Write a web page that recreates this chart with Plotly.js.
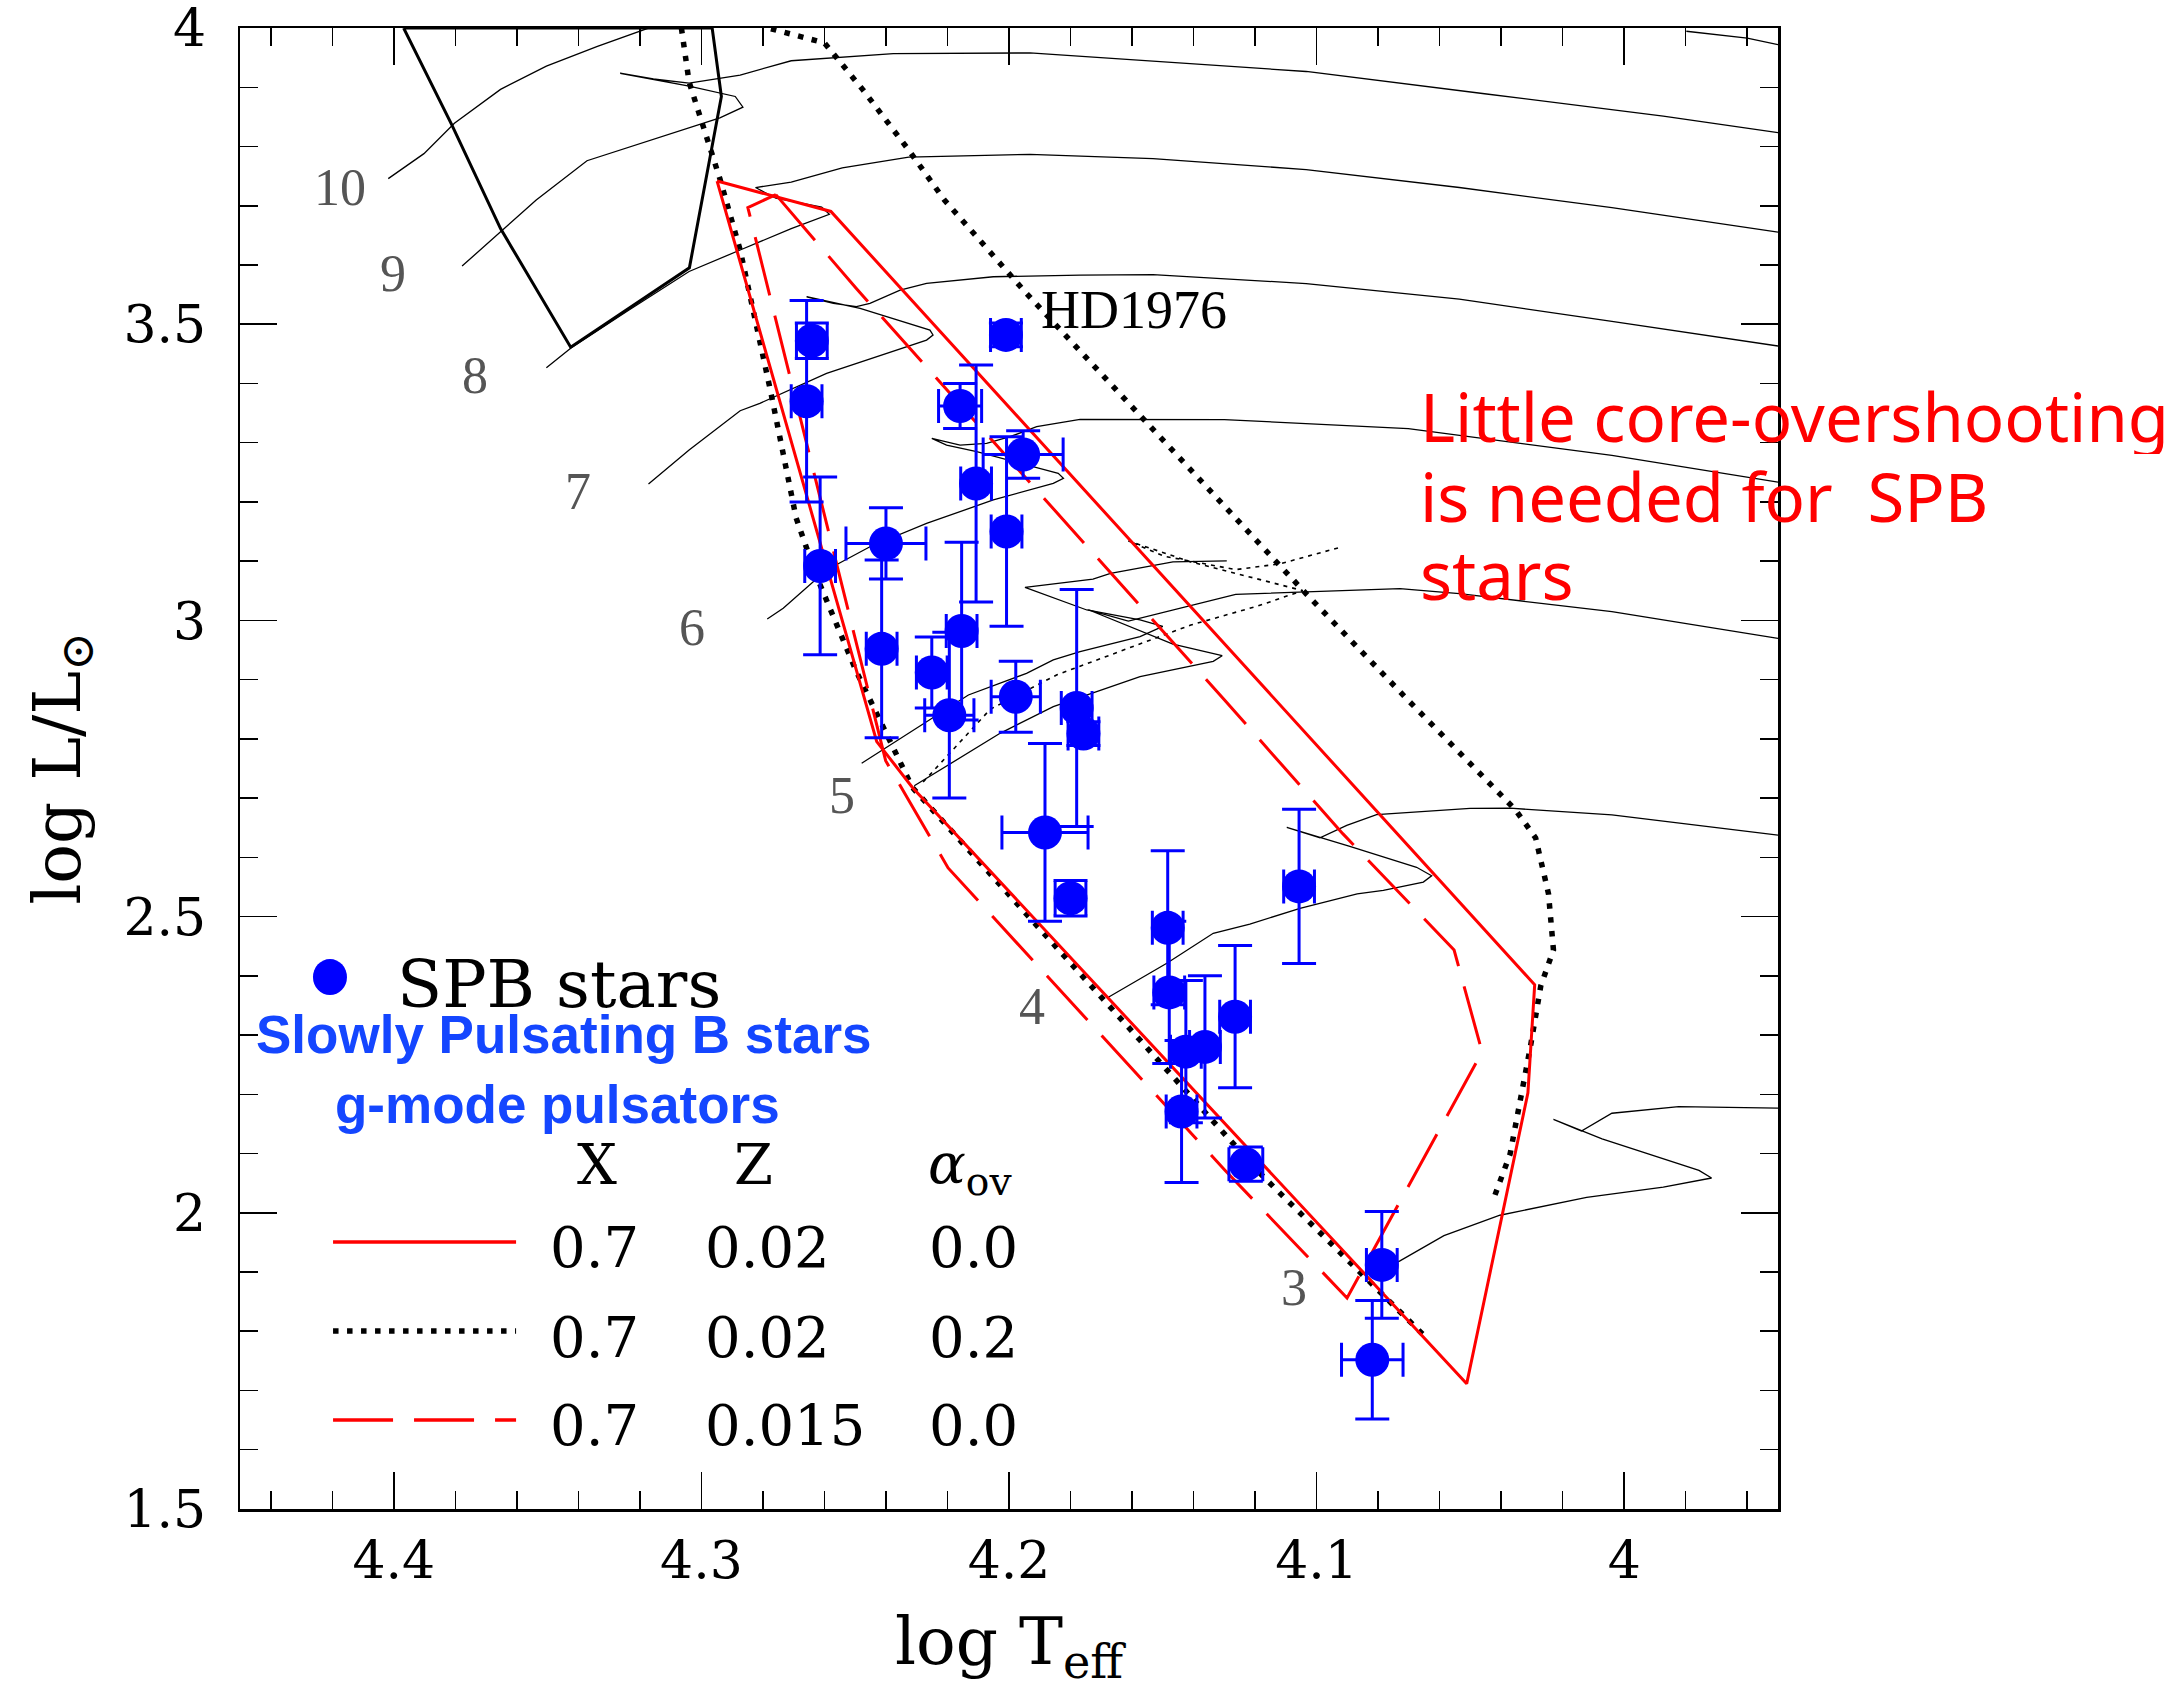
<!DOCTYPE html>
<html>
<head>
<meta charset="utf-8">
<script src="https://cdn.plot.ly/plotly-3.0.1.min.js"></script>
<style>
  html, body { margin: 0; padding: 0; background: #ffffff; }
  #chart { width: 2175px; height: 1689px; }
</style>
</head>
<body>
<div id="chart"></div>
<script>
// ---------------- SPB stars (log Teff, log L/Lsun, 1-sigma errors) ----------------
const spbTeff = [4.2641, 4.2658, 4.2614, 4.2400, 4.2414, 4.2251, 4.2194, 4.2154, 4.2159, 4.2107,
                 4.2010, 4.1954, 4.2008, 4.1978, 4.1780, 4.1758, 4.1883, 4.1800, 4.1484, 4.1479,
                 4.1425, 4.1363, 4.1439, 4.1265, 4.1230, 4.1057, 4.0788, 4.0819];
const spbLum  = [3.472, 3.370, 3.092, 3.130, 2.952, 2.912, 2.840, 2.982, 3.362, 3.231,
                 3.482, 3.280, 3.150, 2.871, 2.852, 2.809, 2.642, 2.531, 2.481, 2.372,
                 2.272, 2.280, 2.171, 2.331, 2.082, 2.551, 1.912, 1.752];
const spbErrTeff = [0.005, 0.005, 0.005, 0.013, 0.005, 0.005, 0.008, 0.005, 0.007, 0.005,
                    0.005, 0.013, 0.005, 0.008, 0.005, 0.005, 0.014, 0.005, 0.005, 0.005,
                    0.005, 0.005, 0.005, 0.005, 0.0055, 0.005, 0.005, 0.010];
const spbErrLum  = [0.03, 0.17, 0.15, 0.06, 0.15, 0.06, 0.14, 0.15, 0.038, 0.20,
                    0.02, 0.04, 0.16, 0.06, 0.20, 0.02, 0.15, 0.03, 0.13, 0.12,
                    0.12, 0.12, 0.12, 0.12, 0.029, 0.13, 0.09, 0.10];

// ---------------- Evolutionary tracks (null = break) ----------------
const track10Teff = [4.4018, 4.3902, 4.3803, 4.3653, 4.3504, 4.3338, 4.3172, null, 3.9798, 3.9600, 3.9500];
const track10Lum  = [3.7458, 3.7880, 3.8393, 3.8965, 3.9357, 3.9689, 4.0000, null, 3.9946, 3.9830, 3.9720];
const track9Teff = [4.3778, 4.3653, 4.3537, 4.3372, 4.3156, 4.2940, 4.2865, 4.2890, 4.3040, 4.3264,
                    4.3156, 4.3040, 4.2874, 4.2708, 4.2376, 4.1932, 4.1034, 4.0454, 3.9873, 3.9500];
const track9Lum  = [3.5982, 3.6555, 3.7097, 3.7760, 3.8121, 3.8484, 3.8665, 3.8845, 3.9020, 3.9237,
                    3.9140, 3.9070, 3.9207, 3.9448, 3.9568, 3.9580, 3.9267, 3.8891, 3.8513, 3.8234];
const track8Teff = [4.3504, 4.3425, 4.3239, 4.3040, 4.2874, 4.2708, 4.2584, 4.2609, 4.2758, 4.2824,
                    4.2708, 4.2542, 4.2326, 4.1932, 4.1532, 4.1034, 4.0536, 4.0040, 3.9500];
const track8Lum  = [3.4264, 3.4595, 3.5228, 3.5891, 3.6253, 3.6615, 3.6855, 3.6977, 3.7127, 3.7308,
                    3.7398, 3.7640, 3.7821, 3.7868, 3.7797, 3.7610, 3.7308, 3.6968, 3.6555];
const track7Teff = [4.3172, 4.3040, 4.2874, 4.2810, 4.2593, 4.2430, 4.2268, 4.2247, 4.2257, 4.2484,
                    4.2658, 4.2571, 4.2496, 4.2452, 4.2354, 4.2268, 4.2051, 4.1769, 4.1532, 4.1034,
                    4.0536, 4.0040, 3.9500];
const track7Lum  = [3.2304, 3.2877, 3.3540, 3.3665, 3.4171, 3.4452, 3.4733, 3.4818, 3.4902, 3.5268,
                    3.5464, 3.5353, 3.5296, 3.5353, 3.5577, 3.5690, 3.5802, 3.5830, 3.5839, 3.5687,
                    3.5424, 3.5047, 3.4632];
const track6Teff = [4.2786, 4.2734, 4.2593, 4.2452, 4.2268, 4.2051, 4.1856, 4.1823, 4.1840, 4.1921,
                    4.2105, 4.2203, 4.2251, 4.2159, 4.2073, 4.1997, 4.1910, 4.1769, 4.1300, 4.0702,
                    4.0040, 3.9500];
const track6Lum  = [3.0023, 3.0204, 3.0851, 3.1244, 3.1639, 3.2033, 3.2314, 3.2399, 3.2483, 3.2595,
                    3.2848, 3.2961, 3.3074, 3.2960, 3.2990, 3.3101, 3.3270, 3.3395, 3.3390, 3.3238,
                    3.2787, 3.2334];
const track5aTeff = [4.2479, 4.2311, 4.2132, 4.1943, 4.1856, 4.1769, 4.1574, 4.1500, 4.1574, 4.1747,
                     4.1948, 4.1727, 4.1670, 4.1467, 4.1292];
const track5aLum  = [2.7588, 2.8150, 2.8741, 2.9107, 2.9332, 2.9472, 2.9726, 2.9900, 3.0008, 3.0176,
                     3.0557, 3.0697, 3.0794, 3.0988, 3.1006];
const track5bTeff = [4.2308, 4.2029, 4.1856, 4.1574, 4.1336, 4.1307, 4.1467, 4.1742, 4.1612, 4.1467,
                     4.1263, 4.0729, 4.0536, 4.0040, 3.9500];
const track5bLum  = [2.7208, 2.8094, 2.8544, 2.9050, 2.9309, 2.9404, 2.9598, 3.0180, 2.9987, 3.0180,
                     3.0439, 3.0535, 3.0451, 3.0149, 2.9696];
const track4Teff = [4.1677, 4.1487, 4.1336, 4.1217, 4.1054, 4.0868, 4.0783, 4.0653, 4.0626, 4.0675,
                    4.0892, 4.1097, 4.0989, 4.0902, 4.0805, 4.0501, 4.0371, 4.0040, 3.9500];
const track4Lum  = [2.3638, 2.4212, 2.4718, 2.4872, 2.5140, 2.5383, 2.5441, 2.5582, 2.5689, 2.5832,
                    2.6186, 2.6506, 2.6328, 2.6541, 2.6720, 2.6827, 2.6830, 2.6718, 2.6374];
const track3Teff = [4.0790, 4.0729, 4.0586, 4.0404, 4.0122, 3.9873, 3.9716, 3.9757, 4.0072, 4.0230,
                    4.0139, 4.0040, 3.9823, 3.9500];
const track3Lum  = [1.9050, 1.9188, 1.9613, 1.9958, 2.0260, 2.0432, 2.0587, 2.0716, 2.1249, 2.1576,
                    2.1379, 2.1680, 2.1792, 2.1766];
// overshooting track (thin dotted)
const ovTrackTeff = [4.2279, 4.2061, 4.1844, 4.1612, 4.1409, 4.1190, 4.1045, 4.1190, 4.1409, 4.1612,
                     4.1496, 4.1263, 4.1118, 4.0915];
const ovTrackLum  = [2.7272, 2.8500, 2.9082, 2.9534, 2.9922, 3.0245, 3.0503, 3.0697, 3.0988, 3.1342,
                     3.1084, 3.0858, 3.0956, 3.1246];

// ---------------- Instability domains ----------------
// beta Cep type domain (thick black)
const betaCepTeff = [4.3968, 4.3811, 4.3653, 4.3425, 4.3039, 4.2935, 4.2965, 4.3968];
const betaCepLum  = [4.0000, 3.8363, 3.6615, 3.4613, 3.5952, 3.8845, 4.0000, 4.0000];
// SPB domain X=0.7 Z=0.02 alpha_ov=0.0 (solid red)
const spbZ020Teff = [4.2949, 4.2579, 4.0291, 4.0313, 4.0512, 4.2314, 4.2430, 4.2949];
const spbZ020Lum  = [3.7417, 3.6904, 2.3850, 2.2024, 1.7115, 2.7180, 2.7955, 3.7417];
// SPB domain X=0.7 Z=0.015 alpha_ov=0.0 (long dashed red)
const spbZ015Teff = [4.2758, 4.2497, 4.1300, 4.0915, 4.0553, 4.0462, 4.0901, 4.1298, 4.2198, 4.2401, 4.2849, 4.2758];
const spbZ015Lum  = [3.7188, 3.5606, 2.8660, 2.6400, 2.4436, 2.2714, 1.8562, 2.0719, 2.5822, 2.7632, 3.6970, 3.7188];
// SPB domain X=0.7 Z=0.02 alpha_ov=0.2 (dotted black)
const spbOvTeff = [4.3065, 4.3040, 4.2940, 4.2874, 4.2774, 4.2692, 4.2627, 4.2497, 4.2314, 4.1182, 4.0652, null,
                   4.0420, 4.0371, 4.0305, 4.0271, 4.0230, 4.0246, 4.0288, 4.0354, 4.0703, 4.1034, 4.1945,
                   4.2210, 4.2326, 4.2476, 4.2600, 4.2783];
const spbOvLum  = [4.0000, 3.9088, 3.7458, 3.6253, 3.3842, 3.1730, 3.0760, 2.9146, 2.7179, 2.0655, 1.7934, null,
                   2.0302, 2.0991, 2.2800, 2.3834, 2.4436, 2.5383, 2.6330, 2.6805, 2.8656, 3.0450, 3.5530,
                   3.7097, 3.7940, 3.8965, 3.9750, 4.0000];

// ---------------- Labels ----------------
const massLabels    = ['10', '9', '8', '7', '6', '5', '4', '3'];
const massLabelTeff = [4.4176, 4.4003, 4.3736, 4.3401, 4.3029, 4.2543, 4.1925, 4.1072];
const massLabelLum  = [3.7308, 3.5864, 3.4142, 3.2184, 2.9872, 2.7036, 2.3474, 1.8730];
const starName = 'HD1976';
const starNameTeff = 4.1593, starNameLum = 3.524;

const xTickVals = [4.4, 4.3, 4.2, 4.1, 4.0];
const xTickText = ['4.4', '4.3', '4.2', '4.1', '4'];
const yTickVals = [1.5, 2, 2.5, 3, 3.5, 4];
const yTickText = ['1.5', '2', '2.5', '3', '3.5', '4'];

const legendX     = ['0.7', '0.7', '0.7'];
const legendZ     = ['0.02', '0.02', '0.015'];
const legendAlpha = ['0.0', '0.2', '0.0'];

const noteLines = ['Little core-overshooting', 'is needed for\u00a0\u00a0SPB', 'stars'];
const spbNames  = ['Slowly Pulsating B stars', 'g-mode pulsators'];

// ---------------- Build ----------------
const SERIF = 'Liberation Serif, DejaVu Serif, Times New Roman, serif';
const WIDE_SERIF = 'DejaVu Serif, serif';
const BLUE = '#0000ff';
const RED = '#ff0000';

function line(x, y, color, width, dash) {
  return {x: x, y: y, type: 'scatter', mode: 'lines', hoverinfo: 'skip', showlegend: false,
          line: {color: color, width: width, dash: dash || 'solid'}};
}

const traces = [
  line(track10Teff, track10Lum, '#000', 1.3),
  line(track9Teff, track9Lum, '#000', 1.3),
  line(track8Teff, track8Lum, '#000', 1.3),
  line(track7Teff, track7Lum, '#000', 1.3),
  line(track6Teff, track6Lum, '#000', 1.3),
  line(track5aTeff, track5aLum, '#000', 1.3),
  line(track5bTeff, track5bLum, '#000', 1.3),
  line(track4Teff, track4Lum, '#000', 1.3),
  line(track3Teff, track3Lum, '#000', 1.3),
  line(ovTrackTeff, ovTrackLum, '#000', 1.6, '4px,5px'),
  line(betaCepTeff, betaCepLum, '#000', 3),
  line(spbOvTeff, spbOvLum, '#000', 5.5, '5.5px,8.5px'),
  line(spbZ015Teff, spbZ015Lum, RED, 3, '60px,21px'),
  line(spbZ020Teff, spbZ020Lum, RED, 3),
  {
    x: spbTeff, y: spbLum, type: 'scatter', mode: 'markers', showlegend: false, hoverinfo: 'skip',
    marker: {size: 34, color: BLUE, line: {width: 0}},
    error_x: {type: 'data', array: spbErrTeff, visible: true, color: BLUE, thickness: 3, width: 17},
    error_y: {type: 'data', array: spbErrLum, visible: true, color: BLUE, thickness: 3, width: 17}
  }
];

const annotations = [];
massLabels.forEach((t, i) => annotations.push({
  x: massLabelTeff[i], y: massLabelLum[i], xref: 'x', yref: 'y', text: t, showarrow: false,
  xanchor: 'center', yanchor: 'middle', font: {family: SERIF, size: 52, color: '#555555'}
}));
annotations.push({
  x: starNameTeff, y: starNameLum, xref: 'x', yref: 'y', text: starName, showarrow: false,
  xanchor: 'center', yanchor: 'middle', font: {family: SERIF, size: 54, color: '#000000'}
});
// note, one box per line so the line spacing stays tight
const noteY = [0.7380, 0.6840, 0.6313];
noteLines.forEach((t, i) => annotations.push({
  x: 0.766, y: noteY[i], xref: 'paper', yref: 'paper', text: t, showarrow: false, height: 76,
  xanchor: 'left', yanchor: 'middle', font: {family: 'Noto Sans, Open Sans, sans-serif', size: 67, color: RED}
}));
annotations.push({
  x: 0.1008, y: 0.3545, xref: 'paper', yref: 'paper', text: 'SPB stars', showarrow: false, height: 52,
  xanchor: 'left', yanchor: 'middle', font: {family: WIDE_SERIF, size: 66, color: '#000'}
});
const spbNameX = [0.0091, 0.0605], spbNameY = [0.3205, 0.2735];
spbNames.forEach((t, i) => annotations.push({
  x: spbNameX[i], y: spbNameY[i], xref: 'paper', yref: 'paper', text: '<b>' + t + '</b>', showarrow: false,
  height: 60,
  xanchor: 'left', yanchor: 'middle', font: {family: 'Liberation Sans, Arial, sans-serif', size: 53, color: '#1446ff'}
}));
// key column headers
annotations.push({x: 0.2321, y: 0.2323, xref: 'paper', yref: 'paper', text: 'X', showarrow: false,
  xanchor: 'center', yanchor: 'middle', font: {family: WIDE_SERIF, size: 56, color: '#000'}});
annotations.push({x: 0.3342, y: 0.2323, xref: 'paper', yref: 'paper', text: 'Z', showarrow: false,
  xanchor: 'center', yanchor: 'middle', font: {family: WIDE_SERIF, size: 56, color: '#000'}});
annotations.push({x: 0.446, y: 0.2303, xref: 'paper', yref: 'paper', text: '<i>α</i><sub>ov</sub>', showarrow: false,
  xanchor: 'left', yanchor: 'middle', font: {family: WIDE_SERIF, size: 56, color: '#000'}});
const rowY = [0.1766, 0.1161, 0.0567];
const colLeft = [0.200, 0.3010, 0.4470];
[legendX, legendZ, legendAlpha].forEach((col, c) => col.forEach((t, r) => annotations.push({
  x: colLeft[c], y: rowY[r], xref: 'paper', yref: 'paper', text: t, showarrow: false,
  xanchor: 'left', yanchor: 'middle', font: {family: WIDE_SERIF, size: 56, color: '#000'}
})));

const keyLineY = [0.1803, 0.1202, 0.0601];
const keyStyles = [
  {color: RED, width: 3.5, dash: 'solid'},
  {color: '#000', width: 5.5, dash: '5.5px,8.5px'},
  {color: RED, width: 3.5, dash: '60px,21px'}
];
const shapes = keyStyles.map((s, i) => ({
  type: 'line', xref: 'paper', yref: 'paper', x0: 0.0605, x1: 0.1795, y0: keyLineY[i], y1: keyLineY[i],
  line: s
}));
shapes.push({
  type: 'circle', xref: 'paper', yref: 'paper', xsizemode: 'pixel', ysizemode: 'pixel',
  xanchor: 0.0585, yanchor: 0.3592, x0: -17, x1: 17, y0: -18, y1: 18,
  fillcolor: BLUE, line: {width: 0}
});

const axisCommon = {
  showline: true, linecolor: '#000', linewidth: 2.5, mirror: 'allticks',
  ticks: 'inside', ticklen: 37, tickwidth: 1.5, tickcolor: '#000',
  showgrid: false, zeroline: false, ticklabeloverflow: 'allow',
  tickfont: {family: WIDE_SERIF, size: 52, color: '#000'}
};

const layout = {
  width: 2175, height: 1689,
  margin: {l: 240, r: 397, t: 28, b: 180, pad: 0},
  paper_bgcolor: '#fff', plot_bgcolor: '#fff',
  showlegend: false,
  xaxis: Object.assign({}, axisCommon, {
    range: [4.45, 3.95], tickmode: 'array', tickvals: xTickVals, ticktext: xTickText,
    ticklabelstandoff: 4,
    minor: {tickmode: 'linear', tick0: 4.0, dtick: 0.02, ticks: 'inside', ticklen: 18, tickwidth: 1.5, tickcolor: '#000'},
    title: {text: 'log T<sub>eff</sub>', font: {family: WIDE_SERIF, size: 66, color: '#000'}, standoff: 34}
  }),
  yaxis: Object.assign({}, axisCommon, {
    range: [1.4999, 4.0001], tickmode: 'array', tickvals: yTickVals, ticktext: yTickText,
    ticklabelstandoff: 21,
    minor: {tickmode: 'linear', tick0: 1.5, dtick: 0.1, ticks: 'inside', ticklen: 18, tickwidth: 1.5, tickcolor: '#000'},
    title: {text: 'log L/L<sub>⊙</sub>', font: {family: WIDE_SERIF, size: 66, color: '#000'}, standoff: 22}
  }),
  annotations: annotations,
  shapes: shapes
};

Plotly.newPlot('chart', traces, layout, {staticPlot: true, displayModeBar: false});
</script>
</body>
</html>
